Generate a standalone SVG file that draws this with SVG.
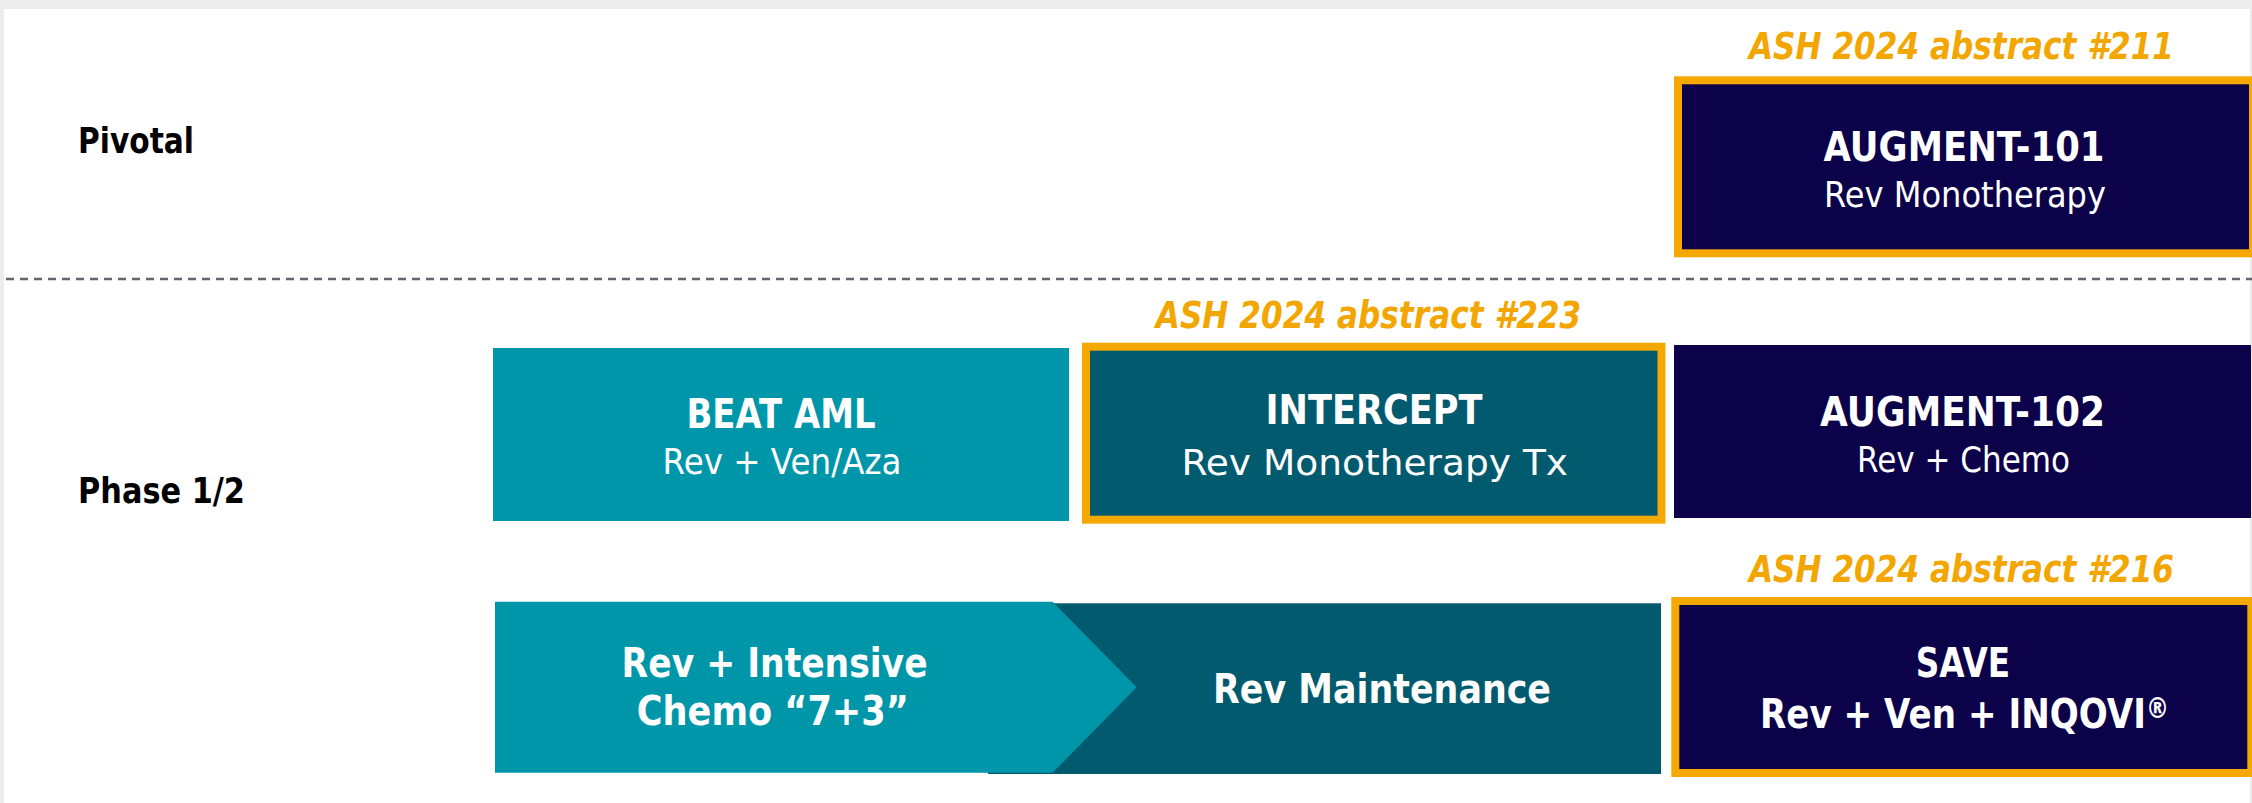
<svg xmlns="http://www.w3.org/2000/svg" width="2252" height="803" viewBox="0 0 2252 803">
  <defs>
    <style>
      text { font-family: "DejaVu Sans", "Noto Sans", sans-serif; fill: #ffffff; }
      .row { font-weight: bold; fill: #000000; font-size: 34.7px; }
      .ash { font-weight: bold; font-style: italic; fill: #f3a600; font-size: 37px; text-anchor: middle; }
      .title { font-weight: bold; font-size: 41.5px; text-anchor: middle; }
      .sub { font-size: 35px; text-anchor: middle; }
      .navy { fill: #0b0249; }
      .teal { fill: #0096aa; }
      .deep { fill: #015a6e; }
      .framed { stroke: #f5a800; stroke-width: 8; }
    </style>
  </defs>

  <!-- page -->
  <rect x="0" y="0" width="2252" height="803" fill="#ececec"/>
  <rect x="4" y="9" width="2246" height="794" fill="#ffffff"/>

  <!-- row labels -->
  <g id="label-pivotal"><text class="row" x="78" y="153" textLength="116" lengthAdjust="spacingAndGlyphs">Pivotal</text></g>
  <g id="label-phase12"><text class="row" x="78" y="503" textLength="167" lengthAdjust="spacingAndGlyphs">Phase 1/2</text></g>

  <!-- separator between pivotal and phase 1/2 -->
  <g id="connectors">
    <line x1="6" y1="279" x2="2252" y2="279" stroke="#5f6870" stroke-width="2.6" stroke-dasharray="8 6"/>
  </g>

  <!-- AUGMENT-101 -->
  <g id="augment-101">
    <text class="ash" x="1961.5" y="59" textLength="425" lengthAdjust="spacingAndGlyphs">ASH 2024 abstract #211</text>
    <rect class="navy framed" x="1678" y="80.3" width="575" height="173"/>
    <text class="title" x="1964" y="161" textLength="281" lengthAdjust="spacingAndGlyphs">AUGMENT-101</text>
    <text class="sub" x="1965" y="206.7" textLength="282" lengthAdjust="spacingAndGlyphs">Rev Monotherapy</text>
  </g>

  <!-- BEAT AML -->
  <g id="beat-aml">
    <rect class="teal" x="493" y="348" width="576" height="173"/>
    <text class="title" x="781" y="427.7" font-size="39" textLength="189" lengthAdjust="spacingAndGlyphs">BEAT AML</text>
    <text class="sub" x="782" y="474" font-size="36.5" textLength="239" lengthAdjust="spacingAndGlyphs">Rev + Ven/Aza</text>
  </g>

  <!-- INTERCEPT -->
  <g id="intercept">
    <text class="ash" x="1368.5" y="327.7" textLength="425.5" lengthAdjust="spacingAndGlyphs">ASH 2024 abstract #223</text>
    <rect class="deep framed" x="1086" y="346.7" width="575.5" height="173"/>
    <text class="title" x="1374" y="424" textLength="217" lengthAdjust="spacingAndGlyphs">INTERCEPT</text>
    <text class="sub" x="1374.7" y="475" font-size="41" textLength="386.6" lengthAdjust="spacingAndGlyphs">Rev Monotherapy Tx</text>
  </g>

  <!-- AUGMENT-102 -->
  <g id="augment-102">
    <rect class="navy" x="1674" y="345" width="577" height="173"/>
    <text class="title" x="1962.5" y="426" textLength="285" lengthAdjust="spacingAndGlyphs">AUGMENT-102</text>
    <text class="sub" x="1963.5" y="471.7" font-size="35.5" textLength="213" lengthAdjust="spacingAndGlyphs">Rev + Chemo</text>
  </g>

  <!-- Rev maintenance (behind the induction chevron) -->
  <g id="rev-maintenance">
    <rect class="deep" x="988" y="603.3" width="673" height="170.7"/>
    <text class="title" x="1382" y="703.3" font-size="40" textLength="338" lengthAdjust="spacingAndGlyphs">Rev Maintenance</text>
  </g>

  <!-- Rev + intensive chemo induction -->
  <g id="rev-intensive-chemo">
    <polygon class="teal" points="495,601.7 1052.6,601.7 1136.7,687.3 1052.6,772.8 495,772.8"/>
    <text class="title" x="774.6" y="677" font-size="40" textLength="306" lengthAdjust="spacingAndGlyphs">Rev + Intensive</text>
    <text class="title" x="772.8" y="725" font-size="40" textLength="272" lengthAdjust="spacingAndGlyphs">Chemo “7+3”</text>
  </g>

  <!-- SAVE -->
  <g id="save">
    <text class="ash" x="1961.5" y="581.7" textLength="425" lengthAdjust="spacingAndGlyphs">ASH 2024 abstract #216</text>
    <rect class="navy framed" x="1675.3" y="601" width="576" height="172"/>
    <text class="title" x="1963" y="677.3" font-size="41" textLength="94.4" lengthAdjust="spacingAndGlyphs">SAVE</text>
    <text class="title" x="1964.5" y="728.3" font-size="41" textLength="409" lengthAdjust="spacingAndGlyphs">Rev + Ven + INQOVI<tspan font-size="28" dy="-10">®</tspan></text>
  </g>
</svg>
